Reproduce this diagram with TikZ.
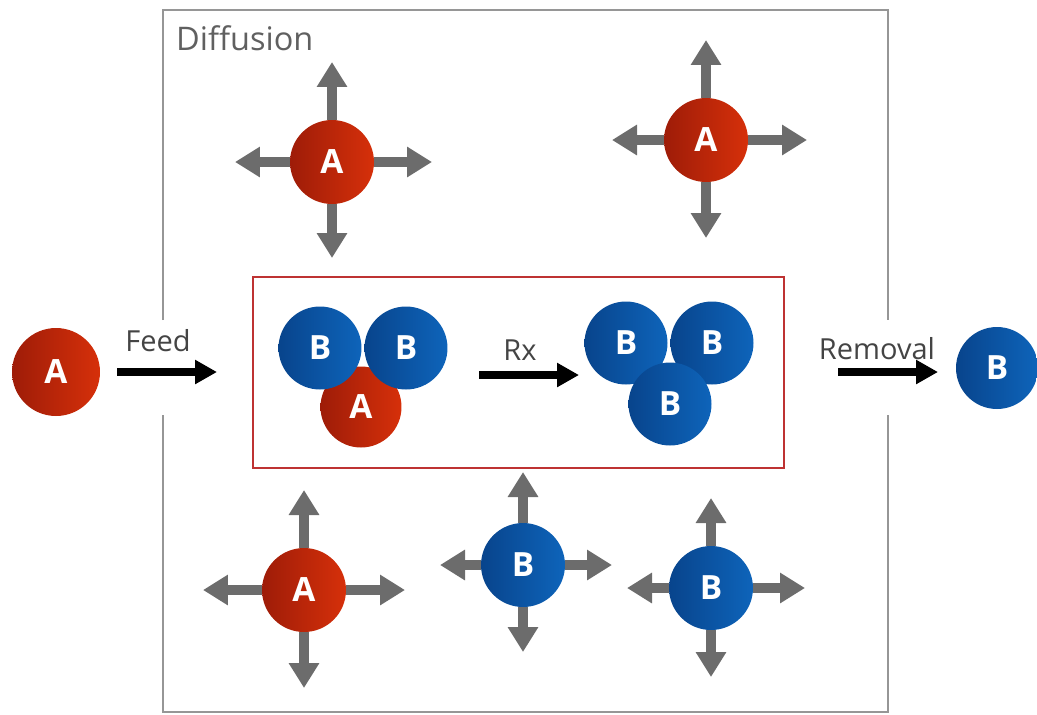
\documentclass[tikz,border=0pt]{standalone}
\usepackage{fontspec}
\setmainfont{Open Sans}
\usepackage{tikz}
\usetikzlibrary{arrows.meta}
\definecolor{redlt}{RGB}{214,48,10}
\definecolor{reddk}{RGB}{158,28,8}
\definecolor{bluelt}{RGB}{14,100,186}
\definecolor{bluedk}{RGB}{8,68,140}
\definecolor{arrgray}{RGB}{108,108,108}
\definecolor{boxgray}{RGB}{150,150,150}
\definecolor{boxred}{RGB}{190,50,50}
\definecolor{txtgray}{RGB}{68,68,68}
\newcommand{\spread}[5]{%
	\path (#1) ++(0,-#2) coordinate (#1u);
	\path (#1) ++(0,#3) coordinate (#1d);
	\path (#1) ++(-#4,0) coordinate (#1l);
	\path (#1) ++(#5,0) coordinate (#1r);
	\draw [diff] (#1) to (#1u);
	\draw [diff] (#1) to (#1d);
	\draw [diff] (#1) to (#1l);
	\draw [diff] (#1) to (#1r);
}

\begin{document}
\begin{tikzpicture}[x=0.02cm, y=-0.02cm,
	molA/.style={circle, inner sep=0pt, minimum size=1.68cm, left color=reddk, right color=redlt, text=white, font=\bfseries\fontsize{19}{19}\selectfont},
	molB/.style={circle, inner sep=0pt, minimum size=1.68cm, left color=bluedk, right color=bluelt, text=white, font=\bfseries\fontsize{19}{19}\selectfont},
	diff/.style={draw=arrgray, line width=0.21cm, -{Triangle[width=0.58cm, length=0.5cm]}},
	flow/.style={draw=black, line width=0.16cm, -{Triangle[width=0.46cm, length=0.44cm]}},
	lbl/.style={text=txtgray, font=\fontsize{16.5}{16.5}\selectfont}]
	\useasboundingbox (0,0) rectangle (1037,714);
	\draw [boxgray, line width=1.1pt] (163,320) -- (163,10) -- (888,10) -- (888,320);
	\draw [boxgray, line width=1.1pt] (888,415) -- (888,712) -- (163,712) -- (163,415);
	\node [lbl, anchor=west, text=txtgray!85, font=\fontsize{18.5}{18.5}\selectfont] (t1) at (170,38) {Diffusion};
	\draw [boxred, line width=1.1pt] (253,277) rectangle (784,468);

	\node [molA] (a1) at (332,162) {A};
	\node [molA] (a2) at (706,140) {A};
	\node [molA] (a3) at (304,590) {A};
	\node [molB] (b1) at (523,565) {B};
	\node [molB] (b2) at (711,588) {B};
	\spread{a1}{100}{96}{97}{100}
	\spread{a2}{100}{98}{94}{101}
	\spread{a3}{100}{98}{101}{101}
	\spread{b1}{93}{87}{83}{89}
	\spread{b2}{90}{89}{84}{94}

	\node [molA, minimum size=1.76cm] (a0) at (56,372) {A};
	\coordinate (f1) at (117,372);
	\coordinate (f2) at (217,372);
	\draw [flow] (f1) to node [lbl, shift={(-9,-31)}] {Feed} (f2);

	\node [molA, minimum size=1.62cm] (ra) at (361,407) {A};
	\node [molB, minimum size=1.66cm] (rb1) at (320,348) {B};
	\node [molB, minimum size=1.66cm] (rb2) at (406,348) {B};
	\coordinate (r1) at (479,375);
	\coordinate (r2) at (579,375);
	\draw [flow] (r1) to node [lbl, shift={(-9,-25)}] {Rx} (r2);
	\node [molB, minimum size=1.66cm] (pb1) at (626,343) {B};
	\node [molB, minimum size=1.66cm] (pb2) at (712,343) {B};
	\node [molB, minimum size=1.66cm] (pb3) at (670,404) {B};

	\coordinate (m1) at (838,372);
	\coordinate (m2) at (938,372);
	\draw [flow] (m1) to node [lbl, shift={(-11,-23)}] {Removal} (m2);
	\node [molB, minimum size=1.64cm] (b0) at (997,368) {B};
\end{tikzpicture}
\end{document}
